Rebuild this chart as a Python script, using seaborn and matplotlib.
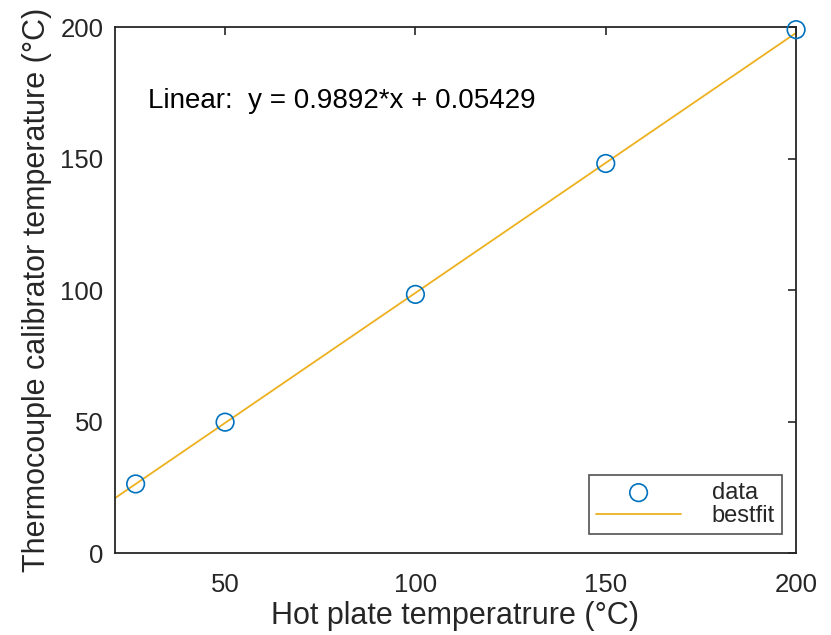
import seaborn as sns
import pandas as pd
import numpy as np
import matplotlib.pyplot as plt

# measured points (hot plate vs calibrator)
hot_plate = [26.5, 50, 100, 150, 200]
calibrator = [26.3, 49.8, 98.4, 148.2, 199.1]

# linear fit coefficients shown on the plot
slope = 0.9892
intercept = 0.05429
fit_x = [21, 200]

BLUE = '#0072BD'
ORANGE = '#EDB120'
INK = '#262626'

sns.set_theme(style='white')
plt.rcParams['font.family'] = ['Liberation Sans', 'DejaVu Sans']

data_df = pd.DataFrame({'x': hot_plate, 'y': calibrator})
fit_df = pd.DataFrame({'x': fit_x, 'y': [slope * v + intercept for v in fit_x]})

fig = plt.figure(figsize=(8.31, 6.35), dpi=100)
ax = fig.add_axes([0.138, 0.129, 0.82, 0.828])

sns.scatterplot(data=data_df, x='x', y='y', ax=ax, marker='o', s=160,
                facecolors='none', edgecolor=BLUE, linewidth=1.2, label='data',
                zorder=3, clip_on=False)
sns.lineplot(data=fit_df, x='x', y='y', ax=ax, color=ORANGE, linewidth=1.3, label='bestfit')

ax.set_xlim(21, 200)
ax.set_ylim(0, 200)
ax.set_xticks([50, 100, 150, 200])
ax.set_yticks([0, 50, 100, 150, 200])
ax.tick_params(direction='in', length=6, width=1.2, top=True, right=True,
               labelsize=18.5, colors=INK)
ax.tick_params(axis='x', pad=14)
ax.tick_params(axis='y', pad=8)
for sp in ax.spines.values():
    sp.set_color(INK)
    sp.set_linewidth(1.3)

ax.set_xlabel('Hot plate temperatrure (°C)', fontsize=22, color=INK, labelpad=3)
ax.set_ylabel('Thermocouple calibrator temperature (°C)', fontsize=22, color=INK, labelpad=6)

ax.text(29.7, 172, f'Linear:  y = {slope}*x + {intercept}', fontsize=20,
        color='black', va='center', ha='left')

leg = ax.legend(loc='lower right', bbox_to_anchor=(1 - 14 / 681, 19 / 526),
                borderaxespad=0, fontsize=17, handlelength=3.6, frameon=True,
                fancybox=False, edgecolor=INK, labelspacing=0.05,
                handletextpad=1.3, borderpad=0.3)
leg.get_frame().set_linewidth(1.2)

plt.savefig('out.png', dpi=100)
plt.close()
